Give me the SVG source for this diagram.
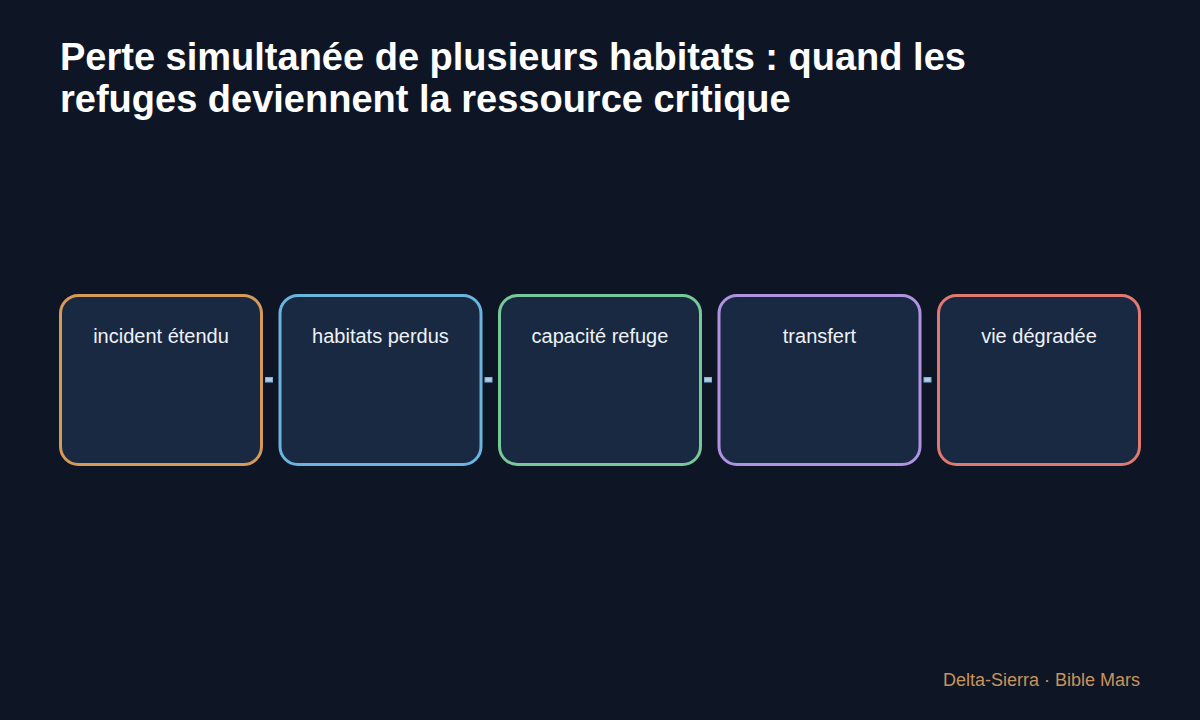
<svg xmlns="http://www.w3.org/2000/svg" width="1200" height="720" viewBox="0 0 1200 720">
  <style>
    .title { font-family: "Liberation Sans", Arial, sans-serif; font-size: 38px; font-weight: bold; fill: #ffffff; }
    .box { fill: #1a2942; stroke-width: 3; }
    .label { font-family: "Liberation Sans", Arial, sans-serif; font-size: 20px; fill: #eef2f8; text-anchor: middle; }
    .conn { fill: #a9cce8; stroke: #7fb0d8; stroke-width: 1; }
    .footer { font-family: "Liberation Sans", Arial, sans-serif; font-size: 18px; fill: #c8935a; text-anchor: end; }
  </style>
  <rect x="0" y="0" width="1200" height="720" fill="#0e1626"/>
  <text class="title" x="60" y="70">Perte simultanée de plusieurs habitats : quand les</text>
  <text class="title" x="60" y="112">refuges deviennent la ressource critique</text>

  <g id="connectors">
    <rect class="conn" x="265.5" y="377.5" width="7" height="4.5"/>
    <rect class="conn" x="485" y="377.5" width="7" height="4.5"/>
    <rect class="conn" x="704.5" y="377.5" width="7" height="4.5"/>
    <rect class="conn" x="924" y="377.5" width="7" height="4.5"/>
  </g>

  <g id="node-incident">
    <rect class="box" x="60.5" y="295.5" width="201" height="169" rx="18" stroke="#d69a58"/>
    <text class="label" x="161" y="343">incident étendu</text>
  </g>
  <g id="node-habitats">
    <rect class="box" x="280" y="295.5" width="201" height="169" rx="18" stroke="#6ab4e0"/>
    <text class="label" x="380.5" y="343">habitats perdus</text>
  </g>
  <g id="node-capacite">
    <rect class="box" x="499.5" y="295.5" width="201" height="169" rx="18" stroke="#78c99a"/>
    <text class="label" x="600" y="343">capacité refuge</text>
  </g>
  <g id="node-transfert">
    <rect class="box" x="719" y="295.5" width="201" height="169" rx="18" stroke="#b093e0"/>
    <text class="label" x="819.5" y="343">transfert</text>
  </g>
  <g id="node-vie">
    <rect class="box" x="938.5" y="295.5" width="201" height="169" rx="18" stroke="#e07a70"/>
    <text class="label" x="1039" y="343">vie dégradée</text>
  </g>

  <text class="footer" x="1140" y="686">Delta-Sierra · Bible Mars</text>
</svg>
